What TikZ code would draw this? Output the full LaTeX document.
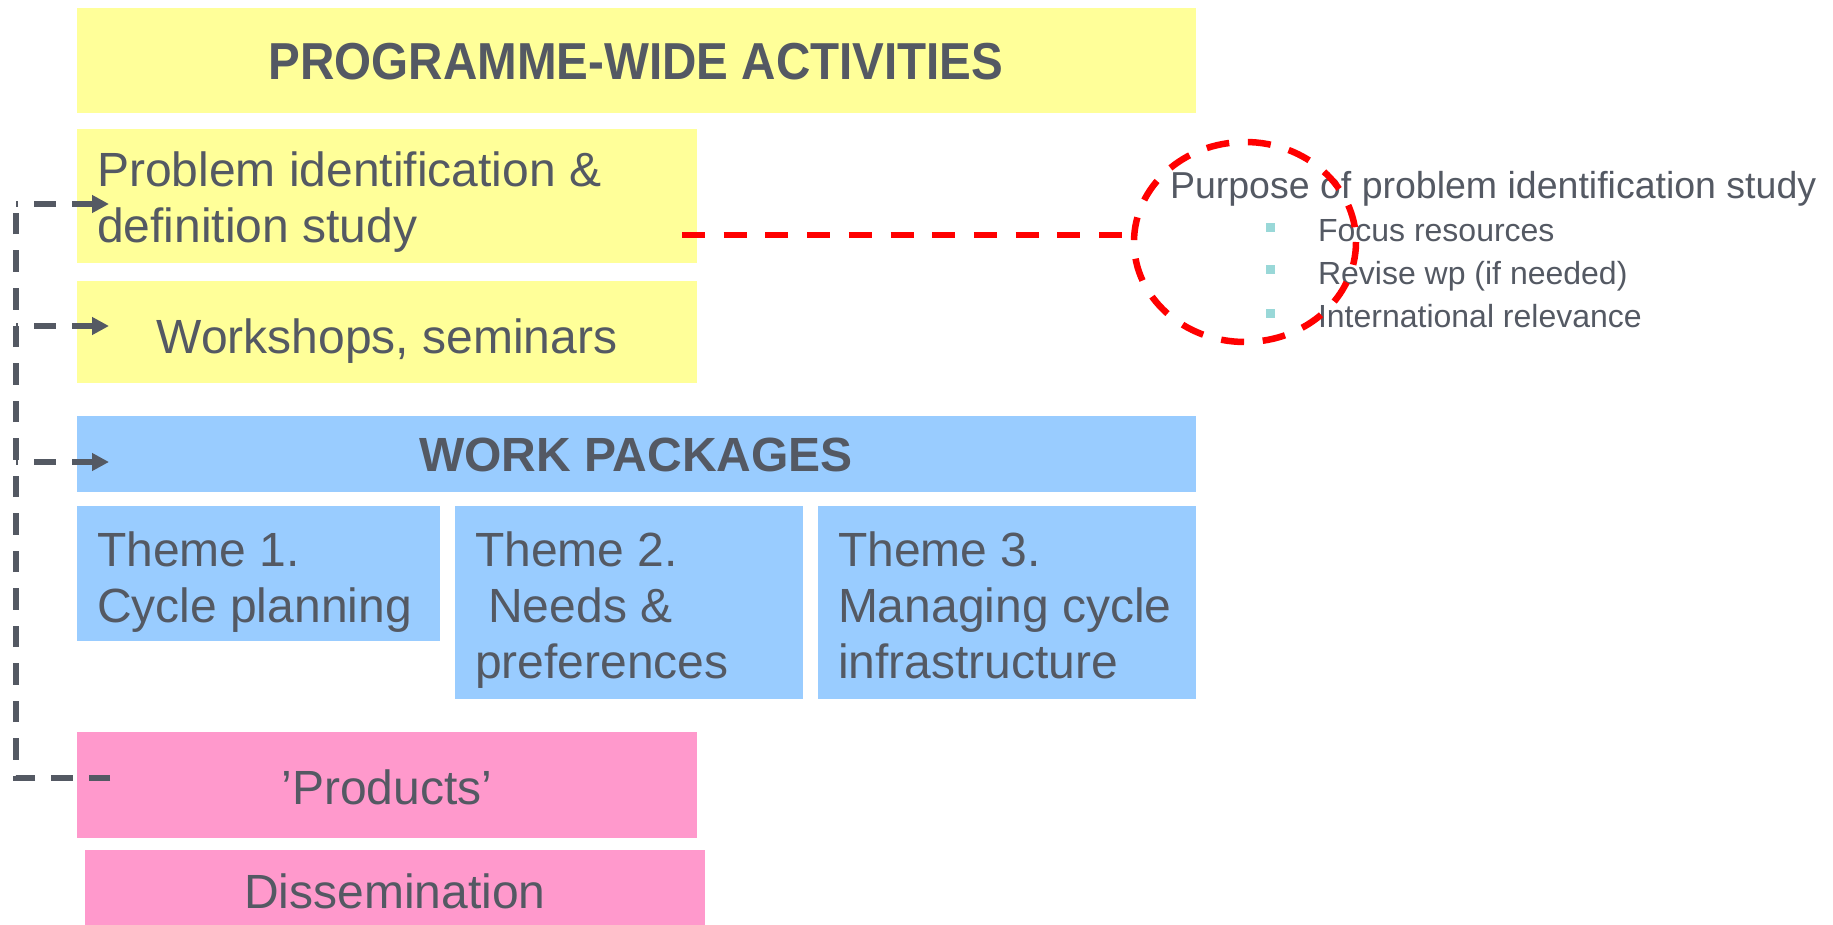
\documentclass[tikz,border=0pt]{standalone}
\usepackage{fontspec}
\setmainfont{Liberation Sans}
\usetikzlibrary{arrows.meta}
\definecolor{tgray}{HTML}{545963}
\definecolor{byellow}{HTML}{FFFF99}
\definecolor{bblue}{HTML}{99CCFF}
\definecolor{bpink}{HTML}{FF99CC}
\definecolor{bteal}{HTML}{99D8D8}
\tikzset{
  txt/.style={inner sep=0, outer sep=0, text=tgray, anchor=base west},
  ctxt/.style={inner sep=0, outer sep=0, text=tgray, anchor=base},
  conn/.style={draw=tgray, line width=6pt, dash pattern=on 21.5pt off 16pt},
  arrback/.style={{Triangle[length=17pt,width=17pt,fill=tgray]}-},
  redconn/.style={draw=red, line width=6.5pt, dash pattern=on 23pt off 18.7pt},
  bul/.style={fill=bteal, inner sep=0, minimum size=9pt},
}
\newcommand{\bigtxt}{\fontsize{48}{56}\selectfont}
\begin{document}
\begin{tikzpicture}[x=1pt,y=-1pt]
\useasboundingbox (0,0) rectangle (1833,925);
% boxes
\fill[byellow] (77,8) rectangle (1196,113);
\fill[byellow] (77,129) rectangle (697,263);
\fill[byellow] (77,281) rectangle (697,383);
\fill[bblue] (77,416) rectangle (1196,492);
\fill[bblue] (77,506) rectangle (440,641);
\fill[bblue] (455,506) rectangle (803,699);
\fill[bblue] (818,506) rectangle (1196,699);
\fill[bpink] (77,732) rectangle (697,838);
\fill[bpink] (85,850) rectangle (705,925);
% texts
\node[ctxt, font=\fontsize{52}{60}\selectfont\bfseries] (tpw) at (636,80) {\scalebox{0.915}[1]{PROGRAMME-WIDE ACTIVITIES}};
\node[txt, font=\bigtxt] (tprob1) at (97,187) {Problem identification \&};
\node[txt, font=\bigtxt] (tprob2) at (97,243) {definition study};
\node[ctxt, font=\bigtxt] (twork) at (387,353) {Workshops, seminars};
\node[ctxt, font=\fontsize{48}{54}\selectfont\bfseries] (twp) at (636,471) {WORK PACKAGES};
\node[txt, font=\bigtxt] (t1a) at (97,566) {Theme 1.};
\node[txt, font=\bigtxt] (t1b) at (97,622) {Cycle planning};
\node[txt, font=\bigtxt] (t2a) at (475,566) {Theme 2.};
\node[txt, font=\bigtxt] (t2b) at (475,622) {\ Needs \&};
\node[txt, font=\bigtxt] (t2c) at (475,678) {preferences};
\node[txt, font=\bigtxt] (t3a) at (838,566) {Theme 3.};
\node[txt, font=\bigtxt] (t3b) at (838,622) {Managing cycle};
\node[txt, font=\bigtxt] (t3c) at (838,678) {infrastructure};
\node[ctxt, font=\bigtxt] (tprod) at (387,804) {’Products’};
\node[ctxt, font=\bigtxt] (tdis) at (395,908) {Dissemination};
% purpose text
\node[txt, font=\fontsize{37.5}{44}\selectfont] (tpur) at (1170,199) {Purpose of problem identification study};
\node[bul] (b1) at (1270.5,228) {};
\node[bul] (b2) at (1270.5,270) {};
\node[bul] (b3) at (1270.5,313) {};
\node[txt, font=\fontsize{32}{36}\selectfont] (tb1) at (1318,242) {Focus resources};
\node[txt, font=\fontsize{32}{36}\selectfont] (tb2) at (1318,284) {Revise wp (if needed)};
\node[txt, font=\fontsize{32}{36}\selectfont] (tb3) at (1318,327) {International relevance};
% left connector
\coordinate (e1) at (109,204);
\coordinate (e2) at (109,326);
\coordinate (e3) at (109,462);
\coordinate (e4) at (110,778);
\coordinate (l1) at (16,204);
\coordinate (l2) at (16,326);
\coordinate (l3) at (16,462);
\coordinate (l4) at (16,778);
\draw[conn] (e4) -- (l4) -- (l1);
\draw[conn, arrback] (e1) -- (l1);
\draw[conn, arrback] (e2) -- (l2);
\draw[conn, arrback] (e3) -- (l3);
% red connector and ellipse
\coordinate (r0) at (682,235);
\draw[redconn] (1245,242) ellipse [x radius=111, y radius=100];
\coordinate (r1) at (1134,235);
\draw[redconn] (r0) -- (r1);
\end{tikzpicture}
\end{document}
